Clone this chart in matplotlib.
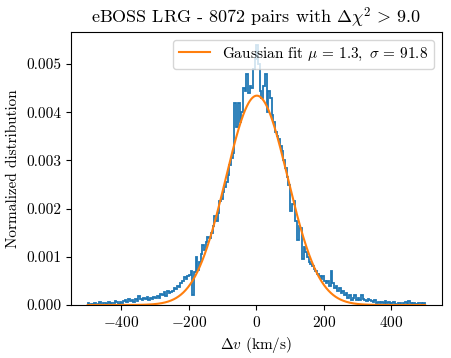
import numpy as np
import matplotlib
matplotlib.use("Agg")
import matplotlib.pyplot as plt

plt.rcParams['font.family'] = 'serif'
plt.rcParams['font.serif'] = ['cmr10', 'DejaVu Serif']
plt.rcParams['mathtext.fontset'] = 'cm'
plt.rcParams['axes.formatter.use_mathtext'] = True

# histogram of velocity differences, 5 km/s bins from -500 to 500 (units of 1e-5)
bin_edges = np.arange(-500, 505, 5)
heights = [
    # -500 .. -400
    4, 0, 3, 0, 5, 0, 3, 6, 0, 4, 5, 3, 6, 0, 5, 4, 8, 6, 3, 7,
    # -400 .. -300
    5, 8, 10, 6, 12, 8, 10, 7, 12, 9, 19, 12, 10, 15, 12, 17, 10, 14, 12, 16,
    # -300 .. -200
    15, 18, 14, 22, 20, 26, 18, 30, 24, 28, 30, 36, 33, 40, 38, 45, 50, 58, 55, 60,
    # -200 .. -100
    62, 70, 21, 68, 100, 72, 90, 105, 125, 115, 130, 142, 140, 150, 165, 185, 175, 190, 215, 220,
    # -100 .. 0
    235, 245, 255, 270, 290, 305, 315, 420, 370, 420, 380, 400, 450, 445, 480, 440, 455, 450, 490, 510,
    # 0 .. 100
    540, 500, 445, 430, 455, 480, 400, 445, 430, 395, 380, 360, 350, 345, 330, 320, 300, 285, 265, 250,
    # 100 .. 200
    195, 210, 215, 175, 135, 165, 160, 95, 120, 110, 100, 90, 85, 80, 75, 70, 65, 60, 55, 60,
    # 200 .. 300
    50, 45, 50, 40, 70, 45, 35, 40, 30, 35, 25, 30, 20, 25, 15, 20, 10, 15, 20, 10,
    # 300 .. 400
    15, 10, 20, 12, 10, 8, 12, 10, 8, 6, 10, 5, 6, 4, 6, 5, 8, 4, 6, 3,
    # 400 .. 500
    5, 6, 3, 0, 5, 4, 0, 4, 6, 3, 8, 5, 0, 4, 3, 0, 5, 4, 0, 4,
]
heights = np.array(heights) * 1e-5

mu = 1.3
sigma = 91.8

fig = plt.figure(figsize=(4.51, 3.58), dpi=100)
ax = fig.add_axes([0.157, 0.148, 0.823, 0.763])

ax.stairs(heights, bin_edges, color='C0', linewidth=1.3)

v = np.linspace(-500, 500, 1000)
gauss = np.exp(-(v - mu) ** 2 / (2 * sigma ** 2)) / (sigma * np.sqrt(2 * np.pi))
ax.plot(v, gauss, color='C1', linewidth=1.5,
        label=r'Gaussian fit $\mu\,=\,1.3,\ \sigma\,=\,91.8$')

ax.set_xlim(-550, 550)
ax.set_ylim(0, heights.max() * 1.05)
ax.set_xticks([-400, -200, 0, 200, 400])
ax.set_yticks([0, 0.001, 0.002, 0.003, 0.004, 0.005])
ax.yaxis.set_major_formatter(matplotlib.ticker.FormatStrFormatter('%.3f'))
ax.tick_params(labelsize=11)

ax.set_title(r'eBOSS LRG - 8072 pairs with $\Delta\chi^2\,>\,9.0$', fontsize=13)
ax.set_xlabel(r'$\Delta v$ (km/s)', fontsize=11)
ax.set_ylabel('Normalized distribution', fontsize=11)
ax.legend(loc='upper right', fontsize=11)

fig.savefig('out.png', dpi=100)
